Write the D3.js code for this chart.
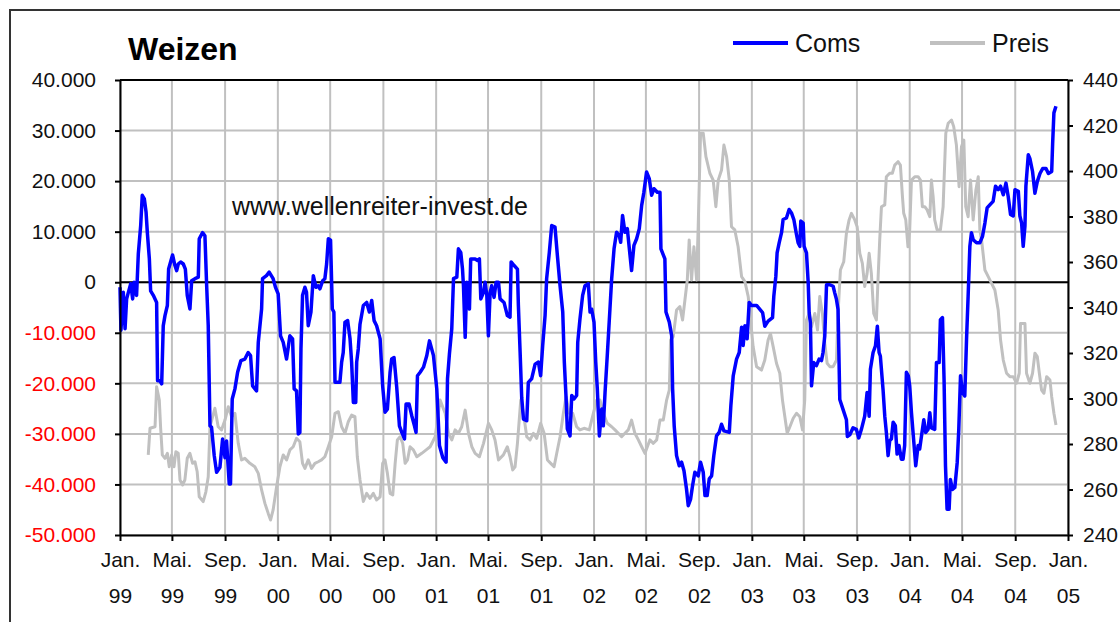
<!DOCTYPE html>
<html>
<head>
<meta charset="utf-8">
<script src="https://cdn.jsdelivr.net/npm/d3@7"></script>
<style>
    body { margin: 0; background: #fff; }
    svg text { font-family: Arial, "Liberation Sans", sans-serif; }
</style>
</head>
<body>
<svg id="weizen"></svg>
<script>
//Data - time as decimal years
const comsYears = [
    1999.000,1999.006,1999.021,1999.032,1999.042,1999.053,1999.068,1999.080,1999.089,1999.105,
    1999.116,1999.131,1999.141,1999.154,1999.165,1999.173,1999.186,1999.194,1999.211,1999.232,
    1999.238,1999.253,1999.264,1999.274,1999.285,1999.300,1999.308,1999.323,1999.333,1999.348,
    1999.359,1999.369,1999.384,1999.401,1999.414,1999.426,1999.443,1999.454,1999.475,1999.496,
    1999.502,1999.523,1999.538,1999.549,1999.559,1999.570,1999.580,1999.597,1999.612,1999.633,
    1999.650,1999.665,1999.675,1999.692,1999.700,1999.711,1999.728,1999.745,1999.766,1999.791,
    1999.812,1999.827,1999.840,1999.865,1999.876,1999.897,1999.903,1999.928,1999.945,1999.970,
    1999.985,2000.002,2000.017,2000.034,2000.055,2000.076,2000.093,2000.103,2000.118,2000.129,
    2000.139,2000.146,2000.156,2000.171,2000.181,2000.192,2000.209,2000.224,2000.241,2000.255,
    2000.266,2000.283,2000.297,2000.308,2000.319,2000.333,2000.344,2000.354,2000.361,2000.392,
    2000.403,2000.413,2000.424,2000.441,2000.456,2000.466,2000.477,2000.492,2000.498,2000.508,
    2000.519,2000.540,2000.561,2000.578,2000.593,2000.608,2000.624,2000.646,2000.662,2000.677,
    2000.692,2000.709,2000.719,2000.734,2000.751,2000.768,2000.783,2000.800,2000.810,2000.829,
    2000.846,2000.863,2000.873,2000.882,2000.899,2000.920,2000.941,2000.958,2000.983,2001.004,
    2001.021,2001.042,2001.063,2001.072,2001.084,2001.099,2001.110,2001.131,2001.141,2001.156,
    2001.167,2001.173,2001.184,2001.194,2001.211,2001.219,2001.247,2001.262,2001.274,2001.283,
    2001.300,2001.310,2001.321,2001.331,2001.342,2001.352,2001.367,2001.380,2001.395,2001.405,
    2001.430,2001.451,2001.468,2001.475,2001.494,2001.515,2001.521,2001.532,2001.542,2001.553,
    2001.574,2001.584,2001.605,2001.627,2001.648,2001.662,2001.675,2001.690,2001.700,2001.717,
    2001.732,2001.753,2001.768,2001.785,2001.802,2001.812,2001.823,2001.831,2001.848,2001.859,
    2001.873,2001.890,2001.897,2001.911,2001.928,2001.943,2001.964,2001.975,2001.985,2002.000,
    2002.011,2002.021,2002.034,2002.049,2002.059,2002.070,2002.084,2002.101,2002.112,2002.127,
    2002.143,2002.160,2002.169,2002.181,2002.196,2002.211,2002.224,2002.238,2002.253,2002.270,
    2002.287,2002.302,2002.316,2002.333,2002.350,2002.365,2002.380,2002.401,2002.418,2002.424,
    2002.449,2002.456,2002.477,2002.492,2002.498,2002.508,2002.523,2002.540,2002.555,2002.570,
    2002.586,2002.597,2002.612,2002.624,2002.639,2002.660,2002.675,2002.692,2002.703,2002.717,
    2002.730,2002.745,2002.759,2002.776,2002.793,2002.808,2002.823,2002.857,2002.867,2002.882,
    2002.903,2002.920,2002.935,2002.945,2002.956,2002.970,2002.983,2002.998,2003.030,2003.068,
    2003.082,2003.103,2003.131,2003.139,2003.152,2003.160,2003.173,2003.188,2003.198,2003.219,
    2003.236,2003.251,2003.266,2003.283,2003.293,2003.304,2003.310,2003.325,2003.331,2003.346,
    2003.357,2003.363,2003.371,2003.378,2003.392,2003.409,2003.426,2003.441,2003.451,2003.462,
    2003.473,2003.494,2003.515,2003.525,2003.536,2003.546,2003.557,2003.578,2003.599,2003.605,
    2003.620,2003.641,2003.662,2003.677,2003.694,2003.715,2003.730,2003.743,2003.751,2003.768,
    2003.783,2003.795,2003.806,2003.814,2003.831,2003.842,2003.852,2003.863,2003.873,2003.884,
    2003.895,2003.909,2003.920,2003.932,2003.947,2003.958,2003.968,2003.979,2003.991,2004.000,
    2004.011,2004.021,2004.038,2004.053,2004.063,2004.074,2004.089,2004.101,2004.116,2004.127,
    2004.137,2004.158,2004.169,2004.186,2004.194,2004.207,2004.217,2004.226,2004.236,2004.249,
    2004.257,2004.270,2004.285,2004.300,2004.310,2004.321,2004.333,2004.348,2004.359,2004.369,
    2004.380,2004.390,2004.401,2004.422,2004.443,2004.460,2004.475,2004.489,2004.506,2004.527,
    2004.542,2004.559,2004.574,2004.591,2004.608,2004.622,2004.637,2004.654,2004.665,2004.686,
    2004.696,2004.707,2004.717,2004.728,2004.734,2004.749,2004.759,2004.776,2004.791,2004.806,
    2004.823,2004.840,2004.861,2004.876,2004.897,2004.903,2004.911,2004.924
];
const comsValues = [
    -1000,-9500,-2000,-9200,-3300,-2000,-300,-3300,0,-2600,
    5600,11200,17200,16500,13900,9900,4600,-1700,-2600,-4000,
    -19500,-19500,-20100,-8600,-6600,-4600,2600,4300,5400,3300,
    2300,3600,4000,3600,2600,-2600,-5300,300,700,1000,
    8600,9800,9200,-700,-8600,-28400,-28700,-34300,-37600,-36600,
    -31000,-34700,-31400,-39900,-39900,-23100,-21100,-17800,-15500,-15200,
    -13900,-14500,-20500,-21500,-11900,-5300,700,1300,2000,700,
    -1000,-2300,-10600,-11900,-15200,-10600,-11200,-21100,-21500,-30000,
    -29700,-13200,-2600,-1000,-2000,-8600,-5900,1300,-1000,-700,
    -1300,300,700,3600,8600,8300,-5300,-5900,-19800,-19800,
    -15800,-13900,-7900,-7600,-11200,-15800,-23800,-23800,-15800,-13200,
    -8300,-4600,-4000,-5900,-3600,-7600,-8600,-11200,-20500,-25700,
    -25100,-17800,-15200,-14900,-20800,-28400,-29700,-31000,-24100,-24100,
    -26400,-28400,-29700,-18500,-17800,-16800,-14500,-11600,-14500,-21100,
    -32300,-34700,-35600,-19100,-14200,-9200,700,1000,6600,5900,
    2600,-700,-10900,0,-5300,4600,4600,4300,4600,-3300,
    -2000,0,-2600,-10600,-2000,-700,-3000,0,0,-3300,
    -4000,-6600,-6900,4000,3300,2600,-4600,-13900,-22800,-27100,
    -27400,-19800,-19100,-16200,-15800,-18500,-12500,-6600,700,5900,
    11200,10900,5300,-700,-5900,-15800,-22800,-29000,-30400,-22400,
    -23100,-22400,-11900,-7300,-2600,-700,-300,-5900,-5300,-7900,
    -15800,-21100,-30400,-25100,-28400,-21800,-14500,-5300,700,6600,
    9900,9200,7900,13200,9900,10600,6600,2300,7300,8600,
    10600,15200,17800,21800,20500,17200,18500,17800,17800,6600,
    4600,-5900,-7900,-10600,-21100,-28400,-34300,-36300,-35600,-37300,
    -40900,-44200,-42900,-40300,-37600,-38300,-35600,-37600,-42200,-42200,
    -38900,-38300,-34300,-30400,-29700,-28100,-29400,-29700,-24400,-18500,
    -15200,-13900,-8900,-12500,-8600,-11200,-4000,-4600,-4600,-6000,
    -8700,-7700,-7000,-2800,1200,5800,7800,9800,12400,12700,
    14400,13700,12400,9400,7800,7100,12100,11700,7100,5800,
    -100,-6000,-8000,-20500,-15900,-16500,-15200,-15500,-13900,-10600,
    -500,-500,-800,-2100,-3400,-5400,-23200,-25200,-27200,-30500,
    -30200,-28800,-29100,-30800,-29100,-26500,-21800,-26500,-17200,-13900,
    -12600,-8700,-13900,-14600,-21200,-26500,-29700,-34300,-31400,-31000,
    -27700,-28400,-34000,-32300,-35000,-35000,-32300,-17800,-18500,-20500,
    -25800,-29700,-36300,-32300,-33000,-30500,-27200,-29700,-29100,-25800,
    -28800,-29100,-15900,-15900,-7400,-7000,-19200,-36300,-44900,-44900,
    -39000,-41000,-40600,-35700,-29100,-18500,-21800,-22500,-11300,-2800,
    7100,9800,8400,7800,7800,9100,11700,14700,15300,16000,
    19000,18300,19000,17300,19600,17000,13400,13100,18300,18000,
    13100,11700,7100,11100,19000,25200,24500,21900,17600,19900,
    21500,22500,22500,21500,21900,27500,33500,34800
];

const preisYears = [
    1999.179,1999.190,1999.222,1999.232,1999.249,1999.257,1999.268,1999.285,1999.300,1999.312,
    1999.327,1999.342,1999.354,1999.369,1999.380,1999.397,1999.411,1999.426,1999.443,1999.460,
    1999.475,1999.489,1999.502,1999.527,1999.544,1999.559,1999.570,1999.601,1999.622,1999.643,
    1999.665,1999.686,1999.707,1999.728,1999.749,1999.770,1999.791,1999.823,1999.854,1999.876,
    1999.897,1999.918,1999.939,1999.954,1999.970,1999.992,2000.013,2000.034,2000.055,2000.076,
    2000.097,2000.118,2000.139,2000.156,2000.171,2000.192,2000.213,2000.234,2000.255,2000.276,
    2000.297,2000.319,2000.340,2000.361,2000.382,2000.403,2000.424,2000.445,2000.466,2000.487,
    2000.502,2000.519,2000.540,2000.561,2000.582,2000.603,2000.624,2000.646,2000.662,2000.677,
    2000.692,2000.709,2000.726,2000.741,2000.755,2000.772,2000.789,2000.804,2000.819,2000.835,
    2000.856,2000.878,2000.909,2000.937,2000.962,2000.994,2001.025,2001.057,2001.078,2001.099,
    2001.120,2001.141,2001.162,2001.184,2001.205,2001.226,2001.247,2001.274,2001.300,2001.331,
    2001.352,2001.373,2001.395,2001.426,2001.451,2001.468,2001.485,2001.500,2001.515,2001.536,
    2001.553,2001.574,2001.595,2001.616,2001.637,2001.662,2001.684,2001.705,2001.726,2001.747,
    2001.764,2001.785,2001.806,2001.823,2001.844,2001.865,2001.890,2001.911,2001.937,2001.970,
    2001.996,2002.017,2002.038,2002.059,2002.084,2002.112,2002.133,2002.154,2002.175,2002.196,
    2002.217,2002.238,2002.259,2002.281,2002.302,2002.323,2002.338,2002.354,2002.376,2002.397,
    2002.418,2002.439,2002.460,2002.477,2002.485,2002.502,2002.523,2002.544,2002.561,2002.576,
    2002.591,2002.603,2002.618,2002.633,2002.650,2002.660,2002.675,2002.692,2002.709,2002.734,
    2002.755,2002.772,2002.787,2002.808,2002.823,2002.840,2002.857,2002.871,2002.892,2002.913,
    2002.935,2002.956,2002.977,2002.992,2003.008,2003.030,2003.061,2003.082,2003.103,2003.118,
    2003.135,2003.156,2003.177,2003.194,2003.209,2003.224,2003.241,2003.262,2003.283,2003.304,
    2003.321,2003.335,2003.346,2003.363,2003.378,2003.399,2003.416,2003.430,2003.447,2003.462,
    2003.477,2003.494,2003.515,2003.536,2003.546,2003.561,2003.582,2003.599,2003.616,2003.631,
    2003.652,2003.667,2003.684,2003.700,2003.715,2003.730,2003.743,2003.757,2003.772,2003.789,
    2003.800,2003.810,2003.821,2003.842,2003.852,2003.873,2003.890,2003.905,2003.926,2003.941,
    2003.954,2003.962,2003.975,2003.989,2004.000,2004.011,2004.032,2004.053,2004.068,2004.080,
    2004.095,2004.110,2004.127,2004.137,2004.148,2004.158,2004.173,2004.194,2004.211,2004.228,
    2004.243,2004.264,2004.278,2004.295,2004.312,2004.327,2004.342,2004.354,2004.369,2004.384,
    2004.401,2004.418,2004.433,2004.443,2004.454,2004.475,2004.496,2004.517,2004.538,2004.559,
    2004.574,2004.591,2004.612,2004.633,2004.654,2004.675,2004.692,2004.700,2004.728,2004.738,
    2004.759,2004.776,2004.791,2004.806,2004.819,2004.833,2004.848,2004.865,2004.886,2004.897,
    2004.911,2004.924
];
const preisValues = [
    275.2,286.9,287.6,305.2,299.3,287.6,275.2,273.7,275.9,270.0,
    275.2,270.0,276.6,275.9,264.2,262.0,264.2,273.7,275.9,271.5,
    272.2,267.8,256.8,254.7,259.0,265.6,287.6,295.7,287.6,286.2,
    290.5,296.4,292.0,293.5,280.3,273.0,273.7,271.5,270.0,267.1,
    259.8,253.9,249.5,246.6,251.0,261.2,270.0,275.2,273.0,277.4,
    278.8,282.5,281.0,271.5,269.3,273.0,269.3,271.5,272.2,273.0,
    274.4,278.8,283.2,293.5,294.2,287.6,284.7,289.8,292.7,292.0,
    274.4,264.2,254.7,258.3,256.1,258.3,255.4,256.8,271.5,273.0,
    267.1,258.3,257.6,271.5,281.8,283.2,280.3,271.5,273.0,278.8,
    277.4,274.4,275.9,277.4,278.8,283.2,299.3,293.5,284.7,281.8,
    286.2,284.7,287.6,294.9,284.7,278.8,275.9,274.4,280.3,289.1,
    286.2,281.8,273.0,275.2,278.8,274.4,268.6,270.0,280.3,299.3,
    293.5,283.2,281.8,284.7,282.5,289.1,284.7,273.0,271.5,270.0,
    275.9,283.2,293.5,300.8,293.5,293.5,287.6,286.2,286.9,286.2,
    293.5,299.3,299.3,293.5,289.1,287.6,286.2,284.7,283.2,284.7,
    286.2,290.5,284.7,281.8,278.8,275.9,278.8,281.8,280.3,281.8,
    290.5,290.5,299.3,303.7,325.7,327.2,338.9,340.4,334.5,343.3,
    352.1,369.7,352.1,366.7,352.1,375.5,416.6,416.6,406.3,399.0,
    396.0,384.3,396.0,400.4,411.4,406.3,396.0,375.5,374.1,366.7,
    353.6,351.4,344.8,334.5,322.8,314.0,312.5,316.9,325.7,328.6,
    322.8,315.5,311.1,299.3,292.0,284.7,287.6,291.3,293.5,292.0,
    286.2,299.3,334.5,337.4,331.6,337.4,330.1,344.8,337.4,324.3,
    315.5,314.0,314.0,316.9,337.4,356.5,360.1,372.6,378.5,381.4,
    378.5,375.5,363.8,359.4,349.2,355.0,363.8,355.0,337.4,334.5,
    353.6,369.7,384.3,385.1,397.5,399.0,399.0,402.6,404.1,402.6,
    388.7,381.4,378.5,366.7,374.1,396.0,397.5,397.5,396.0,384.3,
    384.3,382.9,379.9,396.0,388.7,378.5,374.1,374.1,384.3,416.6,
    421.0,422.4,419.5,411.4,393.1,410.7,413.6,384.3,379.9,396.0,
    378.5,391.6,397.5,374.1,369.7,356.5,353.6,350.6,347.7,338.9,
    325.7,316.9,311.1,309.6,309.6,306.7,311.1,333.0,333.0,311.1,
    306.7,311.1,319.9,318.4,311.1,303.7,302.3,309.6,308.1,300.8,
    293.5,288.3
];

//Axis ticks and labels
const leftTicks = [40000, 30000, 20000, 10000, 0, -10000, -20000, -30000, -40000, -50000];
const rightTicks = [440, 420, 400, 380, 360, 340, 320, 300, 280, 260, 240];
const monthNames = ['Jan.', 'Feb.', 'Mär.', 'Apr.', 'Mai.', 'Jun.', 'Jul.', 'Aug.', 'Sep.', 'Okt.', 'Nov.', 'Dez.'];
const seriesNames = ['Coms', 'Preis'];

window.addEventListener('DOMContentLoaded', e => {
    //Canvas
    let width = 1120;
    let height = 622;
    let margin = {left: 120, top: 80, right: 52, bottom: 87};
    let plotW = width - margin.left - margin.right;
    let plotH = height - margin.top - margin.bottom;

    let blue = '#0000ff';
    let grey = '#c0c0c0';

    let xScale, yLeft, yRight;

    //decimal year -> Date
    const toDate = (t) => {
        let y = Math.floor(t);
        let a = new Date(y, 0, 1);
        let b = new Date(y + 1, 0, 1);
        return new Date(+a + (t - y) * (b - a));
    }

    let coms = comsYears.map((t, i) => ({date: toDate(t), value: comsValues[i]}));
    let preis = preisYears.map((t, i) => ({date: toDate(t), value: preisValues[i]}));

    const de = d3.formatLocale({decimal: ',', thousands: '.', grouping: [3], currency: ['', ' €'], minus: '-'});
    const fmt = de.format(',.0f');

    let svg = d3.select('#weizen');

    let drawCanvas = () => {
        svg.attr('width', width)
           .attr('height', height);

        svg.append('rect')
            .attr('x', 10)
            .attr('y', 10)
            .attr('width', 1300)
            .attr('height', 800)
            .attr('fill', 'none')
            .attr('stroke', '#333')
            .attr('stroke-width', 2);
    }

    let generateScales = () => {
        xScale = d3.scaleTime()
                    .domain([new Date(1999, 0, 1), new Date(2005, 0, 1)])
                    .range([margin.left, margin.left + plotW]);
        yLeft = d3.scaleLinear()
                    .domain([-50000, 40000])
                    .range([margin.top + plotH, margin.top]);
        yRight = d3.scaleLinear()
                    .domain([240, 440])
                    .range([margin.top + plotH, margin.top]);
    }

    let drawGrid = () => {
        let grid = svg.append('g').attr('class', 'grid');

        grid.selectAll('.vline')
            .data(xScale.ticks(d3.timeMonth.every(4)))
            .enter()
            .append('line')
            .attr('x1', d => xScale(d))
            .attr('x2', d => xScale(d))
            .attr('y1', margin.top)
            .attr('y2', margin.top + plotH)
            .attr('stroke', grey)
            .attr('stroke-width', 2);

        grid.selectAll('.hline')
            .data(leftTicks)
            .enter()
            .append('line')
            .attr('x1', margin.left)
            .attr('x2', margin.left + plotW)
            .attr('y1', d => yLeft(d))
            .attr('y2', d => yLeft(d))
            .attr('stroke', grey)
            .attr('stroke-width', 2);

        //zero line
        grid.append('line')
            .attr('x1', margin.left)
            .attr('x2', margin.left + plotW)
            .attr('y1', yLeft(0))
            .attr('y2', yLeft(0))
            .attr('stroke', '#000')
            .attr('stroke-width', 2);
    }

    let drawLines = () => {
        let preisLine = d3.line()
            .x(d => xScale(d.date))
            .y(d => yRight(d.value));
        let comsLine = d3.line()
            .x(d => xScale(d.date))
            .y(d => yLeft(d.value));

        svg.append('path')
            .datum(preis)
            .attr('d', preisLine)
            .attr('fill', 'none')
            .attr('stroke', grey)
            .attr('stroke-width', 3)
            .attr('stroke-linejoin', 'round');

        svg.append('path')
            .datum(coms)
            .attr('d', comsLine)
            .attr('fill', 'none')
            .attr('stroke', blue)
            .attr('stroke-width', 3.5)
            .attr('stroke-linejoin', 'round');
    }

    let generateAxes = () => {
        let xAxis = d3.axisBottom(xScale)
            .ticks(d3.timeMonth.every(4))
            .tickSize(6)
            .tickSizeOuter(0)
            .tickFormat('');
        let leftAxis = d3.axisLeft(yLeft)
            .tickValues(leftTicks)
            .tickSize(5)
            .tickSizeOuter(0)
            .tickPadding(19)
            .tickFormat(fmt);
        let rightAxis = d3.axisRight(yRight)
            .tickValues(rightTicks)
            .tickSize(5)
            .tickSizeOuter(0)
            .tickPadding(10);

        let gx = svg.append('g')
            .attr('id', 'x-axis')
            .attr('transform', 'translate(0, ' + (margin.top + plotH) + ')')
            .call(xAxis);

        gx.selectAll('.tick').each(function(d) {
            let t = d3.select(this).append('text')
                .attr('fill', '#111')
                .attr('font-size', '21px')
                .attr('text-anchor', 'middle');
            t.append('tspan').attr('x', 0).attr('y', 32).text(monthNames[d.getMonth()]);
            t.append('tspan').attr('x', 0).attr('y', 68).text(String(d.getFullYear()).slice(2));
        });

        let gl = svg.append('g')
            .attr('id', 'y-axis')
            .attr('transform', 'translate(' + margin.left + ', 0)')
            .call(leftAxis);
        gl.selectAll('text')
            .attr('font-size', '21px')
            .attr('fill', d => d < 0 ? '#ff0000' : '#111');

        let gr = svg.append('g')
            .attr('id', 'y-axis-right')
            .attr('transform', 'translate(' + (margin.left + plotW) + ', 0)')
            .call(rightAxis);
        gr.selectAll('text')
            .attr('font-size', '21px')
            .attr('fill', '#111');

        svg.selectAll('.domain, .tick line')
            .attr('stroke', '#000')
            .attr('stroke-width', 2);

        //top frame line
        svg.append('line')
            .attr('x1', margin.left)
            .attr('x2', margin.left + plotW)
            .attr('y1', margin.top)
            .attr('y2', margin.top)
            .attr('stroke', '#000')
            .attr('stroke-width', 2);
    }

    let drawLabels = () => {
        svg.append('text')
            .attr('x', 128)
            .attr('y', 60)
            .attr('font-size', '32px')
            .attr('font-weight', 'bold')
            .attr('fill', '#000')
            .text('Weizen');

        svg.append('text')
            .attr('x', 232)
            .attr('y', 215)
            .attr('font-size', '25px')
            .attr('fill', '#111')
            .text('www.wellenreiter-invest.de');

        let legend = svg.append('g').attr('class', 'legend');
        let items = [{name: seriesNames[0], color: blue, x: 733}, {name: seriesNames[1], color: grey, x: 930}];
        items.forEach(item => {
            legend.append('line')
                .attr('x1', item.x)
                .attr('x2', item.x + 55)
                .attr('y1', 43)
                .attr('y2', 43)
                .attr('stroke', item.color)
                .attr('stroke-width', 4);
            legend.append('text')
                .attr('x', item.x + 62)
                .attr('y', 52)
                .attr('font-size', '25px')
                .attr('fill', '#111')
                .text(item.name);
        });
    }

    drawCanvas();
    generateScales();
    drawGrid();
    drawLines();
    generateAxes();
    drawLabels();
})
</script>
</body>
</html>
